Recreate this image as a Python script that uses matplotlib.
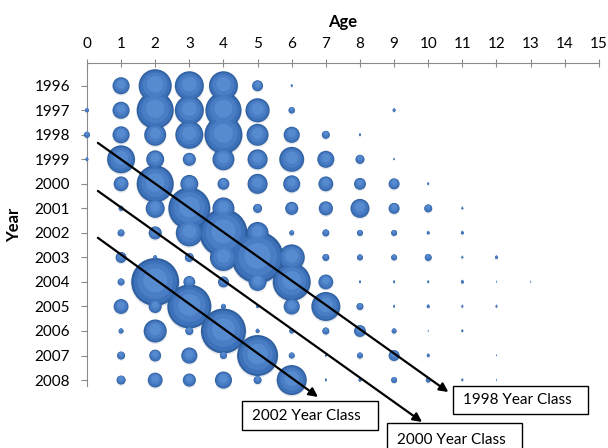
import numpy as np
import matplotlib
matplotlib.use("Agg")
import matplotlib.pyplot as plt
from matplotlib.patches import Rectangle

plt.rcParams['font.family'] = ['Lato', 'DejaVu Sans']

years = [1996, 1997, 1998, 1999, 2000, 2001, 2002, 2003, 2004, 2005, 2006, 2007, 2008]
ages = list(range(14))
catch = [
    [0, 29, 109, 84, 84, 12, 0.4, 0, 0, 0, 0, 0, 0, 0],
    [1.6, 29, 137, 84, 130, 58, 4.2, 0, 0, 0.9, 0, 0, 0, 0],
    [3.6, 29, 48, 78, 144, 48, 26, 6.4, 0.4, 0, 0, 0, 0, 0],
    [0.9, 78, 32, 17, 48, 40, 62, 29, 8.1, 0.2, 0, 0, 0, 0],
    [0, 22, 137, 32, 14, 40, 29, 22, 14, 12, 0.4, 0, 0, 0],
    [0, 2.5, 36, 176, 48, 8.1, 17, 20, 36, 12, 6.4, 0.4, 0, 0],
    [0, 4.9, 17, 73, 230, 48, 2.5, 4.9, 3.6, 3.6, 0.9, 0.9, 0, 0],
    [0, 12, 1.6, 8.1, 73, 270, 68, 4.9, 3.6, 3.6, 4.9, 0.4, 0.9, 0],
    [0, 4.9, 230, 14, 12, 32, 144, 22, 0.4, 0.4, 0.4, 0.9, 0.1, 0.1],
    [0, 22, 17, 194, 2.5, 0.9, 26, 84, 4.9, 0.4, 0.9, 0.4, 0.4, 0],
    [0, 2.5, 53, 6.4, 203, 1.6, 2.5, 4.9, 14, 2.5, 0.1, 0.4, 0, 0],
    [0, 6.4, 14, 26, 4.9, 168, 3.6, 0.4, 3.6, 12, 0.9, 0, 0.1, 0],
    [0, 8.1, 22, 17, 29, 6.4, 90, 0.4, 0.9, 3.6, 2.5, 0.4, 0.1, 0],
]

# Year class arrows: (label, start age, start year, end age, end year)
arrows = [
    ("1998 Year Class", 0.32, 1998.33, 10.59, 2008.49),
    ("2000 Year Class", 0.32, 2000.29, 9.82, 2009.71),
    ("2002 Year Class", 0.32, 2002.20, 6.77, 2008.69),
]
# label boxes: left, right, top, bottom (age / year units)
boxes = {
    "1998 Year Class": (10.72, 14.68, 2008.24, 2009.39),
    "2000 Year Class": (8.79, 12.75, 2009.76, 2011.2),
    "2002 Year Class": (4.55, 8.53, 2008.86, 2010.04),
}

fig = plt.figure(figsize=(6.08, 4.48), dpi=100)
ax = fig.add_axes([0.143, 0.138, 0.842, 0.721])

xx, yy = np.meshgrid(ages, years)
vals = np.array(catch, dtype=float)
mask = vals > 0
xs, ys, vs = xx[mask], yy[mask], vals[mask]

# draw big ones last so they sit on top (like the original)
order = np.argsort(vs)
xs, ys, vs = xs[order], ys[order], vs[order]
size = vs * 5.184

# layered circles for a shaded bubble look
ax.scatter(xs, ys + 0.05, s=size * 1.05, color='#c9cfd8', alpha=0.5, lw=0, clip_on=False, zorder=2)
ax.scatter(xs, ys, s=size, color='#30609f', lw=0, clip_on=False, zorder=3)
ax.scatter(xs, ys, s=size * 0.82, color='#3d71b9', lw=0, clip_on=False, zorder=4)
ax.scatter(xs, ys - 0.03, s=size * 0.55, color='#4a7dc4', lw=0, clip_on=False, zorder=5)
ax.scatter(xs, ys - 0.06, s=size * 0.25, color='#578bcf', lw=0, clip_on=False, zorder=6)

ax.set_xlim(0, 15)
ax.set_ylim(2008.25, 1995.08)
ax.set_xticks(range(16))
ax.set_yticks(years)
ax.xaxis.tick_top()
ax.xaxis.set_label_position('top')
ax.tick_params(axis='x', direction='inout', length=6, width=0.8, color='#8a8a8a',
               labelsize=11, pad=6)
ax.tick_params(axis='y', direction='out', length=4, width=0.8, color='#8a8a8a',
               labelsize=11, pad=8)
for side in ['bottom', 'right']:
    ax.spines[side].set_visible(False)
for side in ['top', 'left']:
    ax.spines[side].set_color('#8a8a8a')
    ax.spines[side].set_linewidth(0.8)

ax.set_xlabel("Age", fontsize=12, fontweight='bold', labelpad=7)
ax.set_ylabel("Year", fontsize=12, fontweight='bold', labelpad=9)

for label, x0, y0, x1, y1 in arrows:
    ax.annotate("", xy=(x1, y1), xytext=(x0, y0), annotation_clip=False,
                arrowprops=dict(arrowstyle='-|>', color='black', lw=1.6,
                                mutation_scale=13, shrinkA=0, shrinkB=0),
                zorder=10)

for label, (l, r, t, b) in boxes.items():
    ax.add_patch(Rectangle((l, t), r - l, b - t, facecolor='white', edgecolor='black',
                           lw=1.0, clip_on=False, zorder=11))
    ty = t + (b - t) / 2 if label != "2000 Year Class" else t + 0.68
    ax.text(l + 0.3, ty, label, fontsize=11, va='center', ha='left',
            clip_on=False, zorder=12)

fig.savefig("out.png", dpi=100)
